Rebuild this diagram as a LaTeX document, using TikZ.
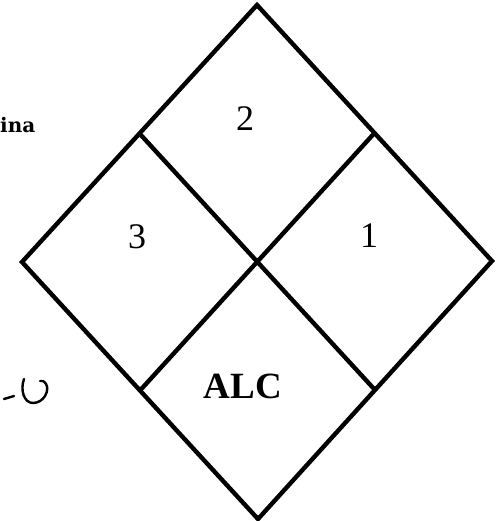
\documentclass[tikz,border=0pt]{standalone}
\usepackage{fontspec}
\setmainfont{Liberation Serif}
\newfontfamily\cutfont{DejaVu Serif}
\usetikzlibrary{calc}

\begin{document}
\begin{tikzpicture}[x=1pt, y=-1pt,
    edge/.style={draw=black, line width=4.4pt, line join=miter},
    digit/.style={font=\fontsize{36}{36}\selectfont},
    tag/.style={font=\fontsize{37}{37}\selectfont\bfseries}]

    \useasboundingbox (0,0) rectangle (500,521);

    % corners of the diamond
    \coordinate (top) at (257,5);
    \coordinate (left) at (22,262);
    \coordinate (right) at (492,261);
    \coordinate (bottom) at (258,519);

    \begin{scope}
        \draw [edge] (top) -- (right) -- (bottom) -- (left) -- cycle;
        \draw [edge] ($(top)!0.5!(left)$) -- ($(right)!0.5!(bottom)$);
        \draw [edge] ($(top)!0.5!(right)$) -- ($(left)!0.5!(bottom)$);
    \end{scope}

    \node [digit] (two) at (245,119) {2};
    \node [digit] (three) at (137,237) {3};
    \node [digit] (one) at (369,236) {1};
    \node [tag] (alc) at (243,386) {ALC};

    \node [anchor=base west, inner sep=0pt, font=\cutfont\fontsize{20}{20}\selectfont\bfseries] (ina) at (0,133) {ina};

    % cut-off mark at the lower left
    \draw [line width=2.4pt, line cap=round] (4,399) -- (14,396);
    \draw [line width=2.4pt, line cap=round]
        (24,379) .. controls (20,390) and (24,403) .. (33,403)
        .. controls (44,403) and (50,390) .. (46,384)
        .. controls (44,381) and (42,380) .. (40,381);
\end{tikzpicture}
\end{document}
